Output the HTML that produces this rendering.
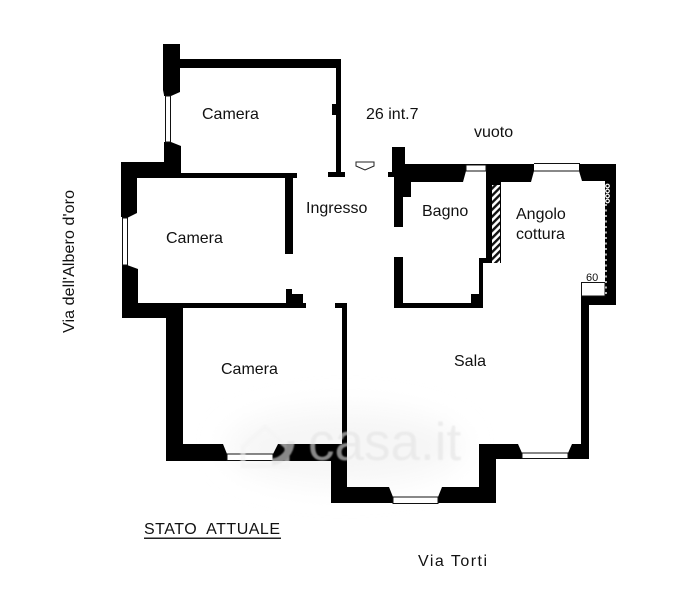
<!DOCTYPE html>
<html>
<head>
<meta charset="utf-8">
<style>
html,body{margin:0;padding:0;background:#fff;width:691px;height:600px;overflow:hidden}
svg{display:block}
text{font-family:"Liberation Sans",sans-serif;fill:#111;font-size:16px}
</style>
</head>
<body>
<svg width="691" height="600" viewBox="0 0 691 600" xmlns="http://www.w3.org/2000/svg">
<defs>
<pattern id="h" width="5" height="5" patternUnits="userSpaceOnUse" patternTransform="rotate(-45)">
<rect width="5" height="5" fill="#fff"/><rect width="5" height="2.4" fill="#111"/>
</pattern>
<filter id="b" x="-30%" y="-50%" width="160%" height="200%"><feGaussianBlur stdDeviation="14"/></filter>
<filter id="b2"><feGaussianBlur stdDeviation="0.7"/></filter>
</defs>
<!-- background haze below the walls -->
<ellipse cx="345" cy="447" rx="118" ry="38" fill="#f6f6f6" filter="url(#b)"/>
<g fill="#000">
<path d="M163 44H180V59H341V172H345V177H328V172H336V115H332V104H336V68H180V92L171 96H164V95L163 90Z"/>
<path d="M164 142H171L181 146V173H297V178H293V254H285V178H137V213L127 218H122V217H121V162H164Z"/>
<path d="M122 265H127L138 269V303H286V289H292V294H303V303H306V308H183V444H223L227 454H273L278 444H342V308H335V303H347V487H389L393 497H438L442 487H479V444H518L522 453H568L572 444H581V305H589V459H496V503H331V461H166V318H122Z"/>
<path d="M392 147H405V164H486V165H466V171L463 182H411V197H403V227H394V177H388V172H392Z"/>
<path d="M486 164H534V171L531 182H501V263H483V308H394V257H403V303H471V294H479V258H486Z"/>
<path d="M579 164H616V305H581V296H605V181H582L579 171Z"/>
</g>
<rect x="534" y="164" width="45" height="7" fill="#fff"/>
<path d="M534 163.5H580M534 171H580" stroke="#111" stroke-width="1"/>
<rect x="581.5" y="282.5" width="23.5" height="13.5" fill="#fff" stroke="#111" stroke-width="1"/>
<!-- hatch -->
<rect x="492" y="185" width="8" height="78" fill="url(#h)"/>
<!-- cooker rings + dotted line -->
<g fill="none" stroke="#fff" stroke-width="1.2">
<circle cx="607.5" cy="186" r="1.8"/><circle cx="607.5" cy="191" r="1.8"/><circle cx="607.5" cy="196" r="1.8"/><circle cx="607.5" cy="201" r="1.8"/>
</g>
<path d="M606 204V296" stroke="#fff" stroke-width="1.4" stroke-dasharray="2 3.5"/>
<!-- windows -->
<g fill="#fff" stroke="#111" stroke-width="1">
<rect x="165.5" y="96" width="5" height="46"/>
<rect x="122.5" y="218" width="5" height="47"/>
<rect x="227" y="454" width="46" height="6.5"/>
<rect x="393" y="497" width="45" height="6.5"/>
<rect x="522" y="453" width="46" height="5.5"/>
<rect x="466" y="165" width="20" height="6"/>
</g>
<path d="M356 162H374V166L365 170L356 166Z" fill="#fff" stroke="#222" stroke-width="1"/>
<!-- labels -->
<text x="202" y="119">Camera</text>
<text x="166" y="243">Camera</text>
<text x="221" y="374">Camera</text>
<text x="306" y="213">Ingresso</text>
<text x="366" y="119">26 int.7</text>
<text x="474" y="137">vuoto</text>
<text x="422" y="216">Bagno</text>
<text x="516" y="219">Angolo</text>
<text x="516" y="239">cottura</text>
<text x="586" y="281" style="font-size:11px">60</text>
<text x="454" y="366">Sala</text>
<text x="418" y="566" textLength="69">Via Torti</text>
<text transform="translate(74,333) rotate(-90)" textLength="143">Via dell'Albero d'oro</text>
<text x="144" y="534" textLength="136" lengthAdjust="spacing" xml:space="preserve">STATO  ATTUALE</text>
<rect x="144" y="537.5" width="137" height="1.5" fill="#222"/>
<!-- watermark -->
<g filter="url(#b2)" opacity=".6">
<text x="308" y="460" style="font-size:53px;fill:#e3e3e3">casa.it</text>
<path d="M243 447L265 427L287 447V466H243Z" fill="none" stroke="#f4f4f4" stroke-width="5"/>
<path d="M291 441A21 21 0 0 1 272 462" fill="none" stroke="#e3e3e3" stroke-width="7"/>
</g>
</svg>
</body>
</html>
